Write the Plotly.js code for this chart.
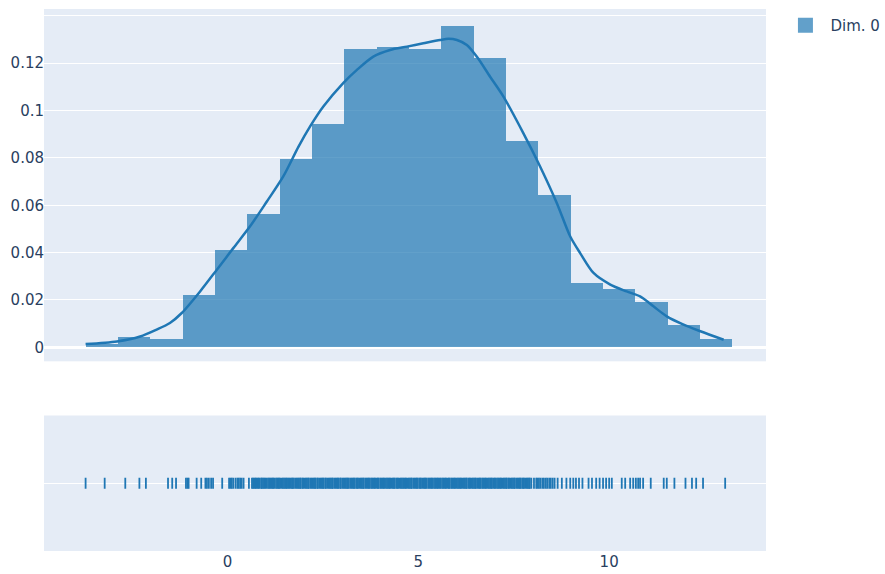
<!DOCTYPE html>
<html>
<head>
<meta charset="utf-8">
<script src="https://cdn.plot.ly/plotly-3.0.1.min.js"></script>
<style>
  html, body { margin: 0; padding: 0; background: #fff; }
  #chart { width: 885px; height: 574px; }
</style>
</head>
<body>
<div id="chart"></div>
<script>
// Series name
const seriesName = 'Dim. 0';

// Histogram: bin edges (21 edges -> 20 bins) and density per bin
const binEdges = [-3.71, -2.86, -2.02, -1.17, -0.32, 0.52, 1.37, 2.22, 3.06, 3.91,
                  4.76, 5.60, 6.45, 7.29, 8.14, 8.99, 9.83, 10.68, 11.53, 12.37, 13.22];
const density = [0.0016, 0.0044, 0.0035, 0.0221, 0.0412, 0.0565, 0.0797, 0.0943, 0.1259, 0.1269,
                 0.1259, 0.1356, 0.1222, 0.0872, 0.0644, 0.0270, 0.0248, 0.0190, 0.0096, 0.0037];

// Kernel density estimate curve
const kdeX = [-3.72, -2.90, -2.29, -1.86, -1.51, -1.20, -0.72, -0.28, 0.15, 0.59,
              1.03, 1.46, 1.86, 2.16, 2.51, 3.03, 3.39, 3.82, 4.26, 4.70,
              5.13, 5.57, 5.79, 6.01, 6.27, 6.53, 6.88, 7.23, 7.75, 8.19,
              8.63, 8.98, 9.24, 9.59, 10.03, 10.46, 10.81, 11.16, 11.51, 11.95,
              12.39, 13.00];
const kdeY = [0.0014, 0.0025, 0.0046, 0.0075, 0.0103, 0.0145, 0.0236, 0.0328, 0.0419, 0.0511,
              0.0616, 0.0722, 0.0848, 0.0932, 0.1017, 0.1116, 0.1172, 0.1228, 0.1256, 0.1270,
              0.1284, 0.1298, 0.1303, 0.1298, 0.1277, 0.1228, 0.1143, 0.1059, 0.0905, 0.0764,
              0.0609, 0.0468, 0.0398, 0.0314, 0.0265, 0.0236, 0.0215, 0.0173, 0.0131, 0.0096,
              0.0068, 0.0032];

// Individual observations shown in the rug strip
const rugX = [
  -3.72, -3.22, -2.68, -2.31, -2.14, -1.56, -1.45, -1.35, -1.09, -1.05, -1.02,
  -0.81, -0.69, -0.58, -0.54, -0.49, -0.43, -0.38, -0.14,
  0.04, 0.08, 0.11, 0.15, 0.21, 0.26, 0.29, 0.33, 0.37, 0.42, 0.56, 0.64,
  0.67, 0.70, 0.73, 0.75, 0.79, 0.81, 0.84, 0.88, 0.90, 0.93, 0.96, 0.99, 1.02, 1.06, 1.09, 1.12,
  1.15, 1.18, 1.20, 1.23, 1.27, 1.30, 1.33, 1.35, 1.38, 1.42, 1.45, 1.48, 1.51, 1.54, 1.56, 1.60,
  1.62, 1.66, 1.69, 1.71, 1.74, 1.78, 1.81, 1.84, 1.87, 1.90, 1.92, 1.96, 1.98, 2.02, 2.05, 2.08,
  2.11, 2.13, 2.17, 2.20, 2.23, 2.26, 2.29, 2.31, 2.35, 2.37, 2.41, 2.44, 2.47, 2.50, 2.52, 2.56,
  2.58, 2.62, 2.65, 2.68, 2.71, 2.74, 2.76, 2.80, 2.83, 2.86, 2.89, 2.91, 2.95, 2.97, 3.01, 3.04,
  3.07, 3.10, 3.13, 3.15, 3.18, 3.22, 3.25, 3.28, 3.31, 3.33, 3.37, 3.40, 3.42, 3.46, 3.49, 3.52,
  3.55, 3.57, 3.61, 3.64, 3.67, 3.70, 3.72, 3.76, 3.79, 3.82, 3.85, 3.87, 3.91, 3.94, 3.96, 4.00,
  4.03, 4.06, 4.09, 4.11, 4.15, 4.18, 4.21, 4.24, 4.26, 4.30, 4.33, 4.36, 4.38, 4.42, 4.45, 4.47,
  4.51, 4.54, 4.57, 4.60, 4.63, 4.66, 4.68, 4.72, 4.75, 4.78, 4.81, 4.83, 4.87, 4.90, 4.93, 4.96,
  4.98, 5.02, 5.05, 5.07, 5.11, 5.14, 5.17, 5.19, 5.22, 5.26, 5.29, 5.32, 5.35, 5.37, 5.41, 5.44,
  5.47, 5.50, 5.52, 5.56, 5.58, 5.62, 5.65, 5.68, 5.71, 5.73, 5.77, 5.80, 5.82, 5.86, 5.89, 5.92,
  5.95, 5.97, 6.01, 6.04, 6.07, 6.10, 6.12, 6.16, 6.19, 6.22, 6.25, 6.27, 6.31, 6.34, 6.36, 6.40,
  6.43, 6.46, 6.49, 6.51, 6.55, 6.58, 6.61, 6.63, 6.67, 6.70, 6.73, 6.76, 6.78, 6.82, 6.85, 6.88,
  6.91, 6.93, 6.97, 7.00, 7.02, 7.06, 7.09, 7.12, 7.15, 7.17, 7.21, 7.24, 7.27, 7.30, 7.32, 7.36,
  7.38, 7.42, 7.45, 7.48, 7.51, 7.53, 7.57, 7.60, 7.63, 7.66, 7.68, 7.72, 7.75, 7.77, 7.81, 7.84,
  7.87, 7.90, 7.92, 7.96,
  8.03, 8.09, 8.12, 8.16, 8.20, 8.25, 8.29, 8.34, 8.38, 8.43, 8.47, 8.52, 8.57,
  8.65, 8.76, 8.88, 8.98, 9.06, 9.13, 9.21, 9.30, 9.46, 9.55, 9.66, 9.75, 9.84, 9.92,
  10.00, 10.07, 10.33, 10.42, 10.55, 10.63, 10.70, 10.76, 10.81, 10.89, 11.09,
  11.43, 11.51, 11.71, 12.00, 12.17, 12.28, 12.46, 13.04
];

const blue = 'rgb(31,119,180)';
const blueFill = 'rgba(31,119,180,0.7)';
const fontFamily = 'Verdana, "DejaVu Sans", sans-serif';
const tickColor = '#2a3f5f';

const binLeft = binEdges.slice(0, -1);
const binWidths = binLeft.map((e, i) => binEdges[i + 1] - e);

const traces = [
  {
    // histogram bars (normalised to a probability density)
    type: 'bar',
    x: binLeft,
    y: density,
    width: binWidths,
    offset: 0,
    marker: { color: blueFill, line: { width: 0 } },
    name: seriesName,
    legendgroup: seriesName,
    showlegend: false,
    hoverinfo: 'y',
    xaxis: 'x', yaxis: 'y'
  },
  {
    // legend entry for the histogram
    type: 'scatter',
    mode: 'markers',
    x: [null], y: [null],
    marker: { symbol: 'square', size: 15, color: blueFill, line: { width: 0 } },
    name: seriesName,
    legendgroup: seriesName,
    showlegend: true,
    hoverinfo: 'skip',
    xaxis: 'x', yaxis: 'y'
  },
  {
    // density curve
    type: 'scatter',
    mode: 'lines',
    x: kdeX,
    y: kdeY,
    line: { color: blue, width: 2.5, shape: 'spline', smoothing: 0.8 },
    name: seriesName,
    legendgroup: seriesName,
    showlegend: false,
    xaxis: 'x', yaxis: 'y'
  },
  {
    // rug strip
    type: 'scatter',
    mode: 'markers',
    x: rugX,
    y: rugX.map(() => seriesName),
    marker: { symbol: 'line-ns-open', size: 8, color: blue, line: { color: blue, width: 1.8 } },
    name: seriesName,
    legendgroup: seriesName,
    showlegend: false,
    xaxis: 'x', yaxis: 'y2'
  }
];

const yTicks = [0, 0.02, 0.04, 0.06, 0.08, 0.1, 0.12, 0.14];
const yTickText = ['0', '0.02', '0.04', '0.06', '0.08', '0.1', '0.12', ''];

const layout = {
  width: 885,
  height: 574,
  margin: { l: 44, r: 119, t: 9, b: 23, pad: 0, autoexpand: false },
  paper_bgcolor: '#ffffff',
  plot_bgcolor: '#E5ECF6',
  font: { family: fontFamily, size: 15, color: tickColor },
  showlegend: true,
  legend: {
    x: 1.02, y: 1, xanchor: 'left', yanchor: 'top',
    itemwidth: 40,
    font: { family: fontFamily, size: 15, color: tickColor },
    bgcolor: 'rgba(0,0,0,0)'
  },
  bargap: 0,
  xaxis: {
    domain: [0, 1],
    anchor: 'y2',
    range: [-4.81, 14.11],
    tick0: 0, dtick: 5,
    showgrid: false,
    zeroline: false,
    showline: false,
    ticks: '',
    tickfont: { family: fontFamily, size: 15, color: tickColor }
  },
  yaxis: {
    domain: [0.35, 1],
    anchor: 'free',
    position: 0,
    range: [-0.0059, 0.1429],
    tickmode: 'array',
    tickvals: yTicks,
    ticktext: yTickText,
    gridcolor: '#ffffff',
    gridwidth: 1.25,
    zeroline: true,
    zerolinecolor: '#ffffff',
    zerolinewidth: 2.5,
    showline: false,
    ticks: '',
    tickfont: { family: fontFamily, size: 15, color: tickColor }
  },
  yaxis2: {
    domain: [0, 0.25],
    anchor: 'x',
    type: 'category',
    range: [-1, 1],
    showticklabels: false,
    gridcolor: '#ffffff',
    gridwidth: 1.25,
    zeroline: false,
    showline: false,
    ticks: ''
  }
};

Plotly.newPlot('chart', traces, layout, { displayModeBar: false, responsive: false });
</script>
</body>
</html>
